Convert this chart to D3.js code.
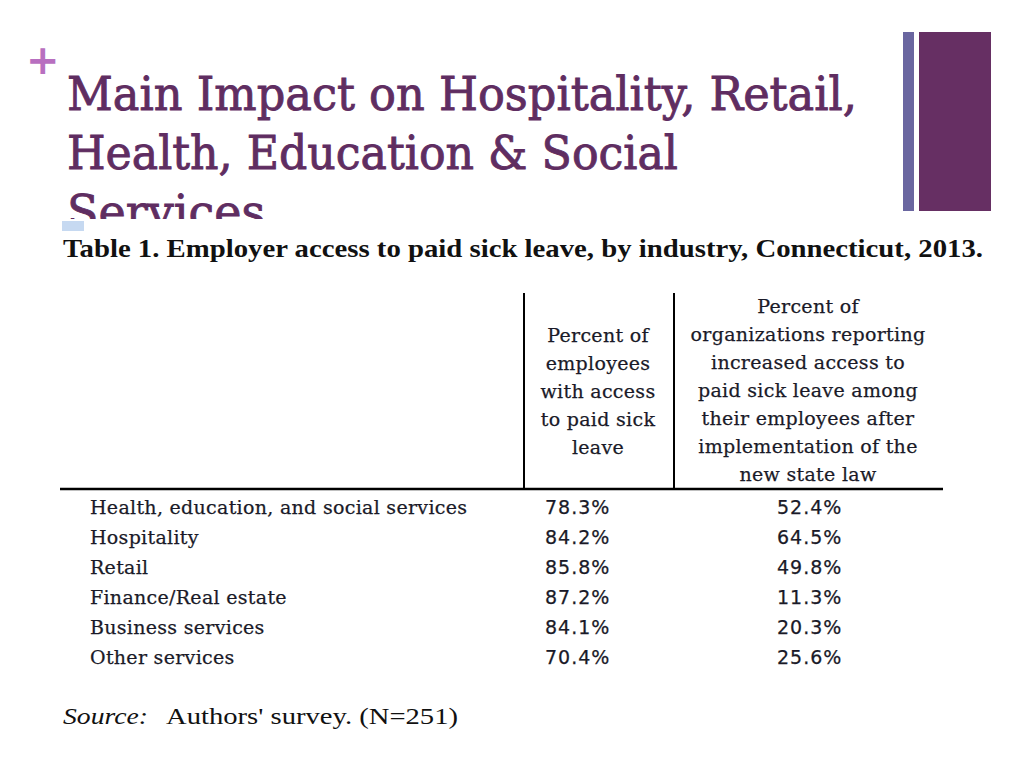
<!DOCTYPE html>
<html><head><meta charset="utf-8">
<script src="https://cdn.jsdelivr.net/npm/d3@7"></script>
<style>html,body{margin:0;padding:0;background:#fff;overflow:hidden}</style>
</head><body>
<script>
// ---- data ----
const titleLines = ["Main Impact on Hospitality, Retail,", "Health, Education & Social", "Services"];
const caption = "Table 1. Employer access to paid sick leave, by industry, Connecticut, 2013.";
const categories = ["Health, education, and social services", "Hospitality", "Retail", "Finance/Real estate", "Business services", "Other services"];
const accessPct = [78.3, 84.2, 85.8, 87.2, 84.1, 70.4];
const increasedPct = [52.4, 64.5, 49.8, 11.3, 20.3, 25.6];
const header1 = ["Percent of", "employees", "with access", "to paid sick", "leave"];
const header2 = ["Percent of", "organizations reporting", "increased access to", "paid sick leave among", "their employees after", "implementation of the", "new state law"];
const sourceItalic = "Source:";
const sourceText = "Authors' survey. (N=251)";

const W = 1024, H = 768;
const svg = d3.select("body").append("svg").attr("width", W).attr("height", H);

// plus sign
svg.append("text").attr("x", 26).attr("y", 74).attr("font-family", "DejaVu Sans").attr("font-weight", "bold")
  .attr("font-size", 40).attr("fill", "#b86fc0").text("+");

// decorative bars
svg.append("rect").attr("x", 903).attr("y", 32).attr("width", 11).attr("height", 179).attr("fill", "#6a66a0");
svg.append("rect").attr("x", 919).attr("y", 32).attr("width", 72).attr("height", 179).attr("fill", "#662f63");

// title
const titleY = d3.scalePoint().domain(d3.range(titleLines.length)).range([110, 228]);
const titleWidths = [790, 611, 198];
svg.append("g").selectAll("text").data(titleLines).join("text")
  .attr("x", 67).attr("y", (d, i) => titleY(i))
  .attr("font-family", "DejaVu Serif").attr("font-size", 47).attr("fill", "#5f2d61")
  .attr("stroke", "#5f2d61").attr("stroke-width", 0.9)
  .attr("textLength", (d, i) => titleWidths[i]).attr("lengthAdjust", "spacingAndGlyphs")
  .text(d => d);

// white table image area covering bottom of title
svg.append("rect").attr("x", 60).attr("y", 219).attr("width", 935).attr("height", 520).attr("fill", "#fff");
svg.append("rect").attr("x", 62).attr("y", 221).attr("width", 22).attr("height", 10).attr("fill", "#c6d9f1");

// caption
svg.append("text").attr("x", 63).attr("y", 257)
  .attr("font-family", "Liberation Serif").attr("font-weight", "bold").attr("font-size", 25).attr("fill", "#111")
  .attr("textLength", 920).attr("lengthAdjust", "spacingAndGlyphs").text(caption);

const bodyFont = "DejaVu Serif";
const numFont = "DejaVu Sans";
const ink = "#1a1a28";
const bodySize = 19;

// header structure
svg.append("line").attr("x1", 524).attr("x2", 524).attr("y1", 293).attr("y2", 489).attr("stroke", "#000").attr("stroke-width", 2);
svg.append("line").attr("x1", 674).attr("x2", 674).attr("y1", 293).attr("y2", 489).attr("stroke", "#000").attr("stroke-width", 2);
svg.append("line").attr("x1", 60).attr("x2", 943).attr("y1", 489).attr("y2", 489).attr("stroke", "#000").attr("stroke-width", 2.5);

const hLine = d3.scaleLinear().domain([0, 1]).range([0, 28]);
svg.append("g").selectAll("text").data(header1).join("text")
  .attr("x", 598).attr("y", (d, i) => 342 + hLine(i)).attr("text-anchor", "middle")
  .attr("font-family", bodyFont).attr("font-size", bodySize).attr("letter-spacing", 0.3)
  .attr("stroke", ink).attr("stroke-width", 0.25).attr("fill", ink).text(d => d);
svg.append("g").selectAll("text").data(header2).join("text")
  .attr("x", 808).attr("y", (d, i) => 313 + hLine(i)).attr("text-anchor", "middle")
  .attr("font-family", bodyFont).attr("font-size", bodySize).attr("letter-spacing", 0.3)
  .attr("stroke", ink).attr("stroke-width", 0.25).attr("fill", ink).text(d => d);

// rows
const y = d3.scalePoint().domain(categories).range([514, 664]);
const colX = d3.scaleOrdinal().domain(["label", "access", "increased"]).range([90, 545, 777]);
const fmt = v => d3.format(".1f")(v) + "%";

const rows = svg.append("g").selectAll("g").data(categories).join("g");
rows.append("text").attr("x", colX("label")).attr("y", d => y(d))
  .attr("font-family", bodyFont).attr("font-size", bodySize).attr("letter-spacing", 0.3)
  .attr("stroke", ink).attr("stroke-width", 0.25).attr("fill", ink).text(d => d);
rows.append("text").attr("x", colX("access")).attr("y", d => y(d))
  .attr("font-family", numFont).attr("font-size", 19).attr("letter-spacing", 1)
  .attr("stroke", ink).attr("stroke-width", 0.25).attr("fill", ink).text((d, i) => fmt(accessPct[i]));
rows.append("text").attr("x", colX("increased")).attr("y", d => y(d))
  .attr("font-family", numFont).attr("font-size", 19).attr("letter-spacing", 1)
  .attr("stroke", ink).attr("stroke-width", 0.25).attr("fill", ink).text((d, i) => fmt(increasedPct[i]));

// source
const src = svg.append("text").attr("x", 63).attr("y", 724).attr("font-family", "Liberation Serif").attr("font-size", 24).attr("fill", "#111");
src.append("tspan").attr("font-style", "italic").attr("textLength", 85).attr("lengthAdjust", "spacingAndGlyphs").text(sourceItalic);
src.append("tspan").attr("x", 166).attr("textLength", 292).attr("lengthAdjust", "spacingAndGlyphs").text(sourceText);
</script>
</body></html>
